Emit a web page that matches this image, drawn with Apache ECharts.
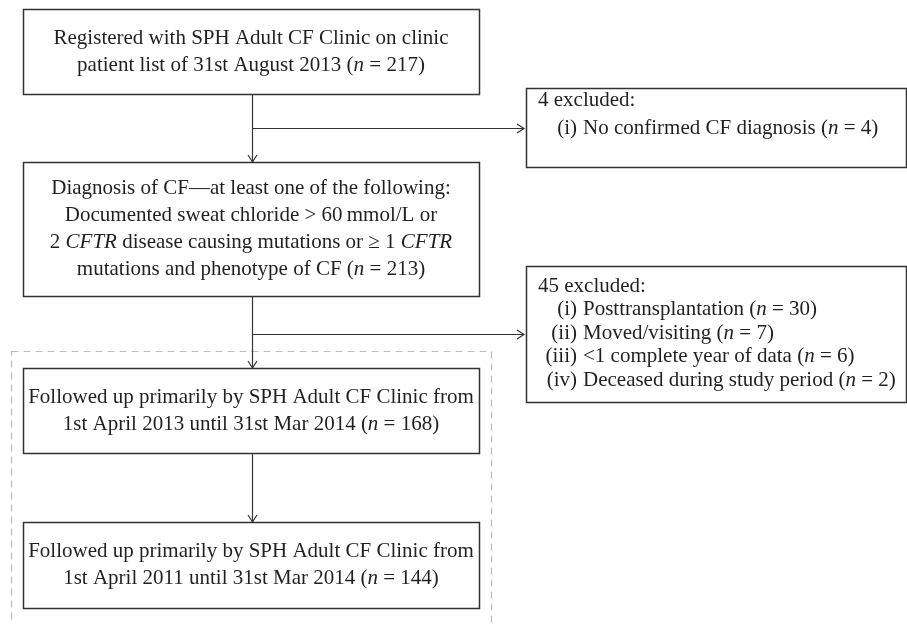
<!DOCTYPE html>
<html>
<head>
<meta charset="utf-8">
<script src="https://cdn.jsdelivr.net/npm/echarts@6/dist/echarts.min.js"></script>
<style>
  html, body { margin: 0; padding: 0; background: #fff; }
  #chart { width: 907px; height: 624px; }
</style>
</head>
<body>
<div id="chart"></div>
<script>
// flow steps (main column) and the patient count at each step
const stepLines = [
  ['Registered with SPH Adult CF Clinic on clinic', 'patient list of 31st August 2013'],
  ['Diagnosis of CF\u2014at least one of the following:',
   'Documented sweat chloride > 60\u2009mmol/L or',
   '2 {i|CFTR} disease causing mutations or \u2265 1 {i|CFTR}',
   'mutations and phenotype of CF'],
  ['Followed up primarily by SPH Adult CF Clinic from', '1st April 2013 until 31st Mar 2014'],
  ['Followed up primarily by SPH Adult CF Clinic from', '1st April 2011 until 31st Mar 2014']
];
const stepCounts = [217, 213, 168, 144];

// exclusions
const excl1Reasons = ['No confirmed CF diagnosis'];
const excl1Counts = [4];
const excl2Reasons = ['Posttransplantation', 'Moved/visiting', '<1 complete year of data', 'Deceased during study period'];
const excl2Counts = [30, 7, 6, 2];
const numerals = ['i', 'ii', 'iii', 'iv'];

const FONT = '"Liberation Serif", "DejaVu Serif", serif';
const SIZE = 21;
const INK = '#231f20';
const LINE = '#333';

const rich = {
  r: {fontFamily: FONT, fontSize: SIZE, fill: INK},
  i: {fontFamily: FONT, fontSize: SIZE, fill: INK, fontStyle: 'italic'}
};

const nText = (n) => ' ({i|n} = ' + n + ')';

// layout of the boxes
const mainX = 23, mainW = 456;
const mainBoxes = [
  {y: 9, h: 85},
  {y: 162, h: 134},
  {y: 368, h: 85},
  {y: 522, h: 86}
];
const sideX = 526, sideW = 380;
const sideBoxes = [
  {y: 88, h: 79},
  {y: 266, h: 136}
];
const stemX = 252;
const LH = 27;

const elements = [];

function text(x, y, str, align) {
  // wrap plain runs in the "r" style so rich tokens render consistently
  const parts = str.split(/(\{i\|[^}]*\})/).filter(s => s.length);
  const t = parts.map(p => p.startsWith('{i|') ? p : '{r|' + p + '}').join('');
  elements.push({
    type: 'text', silent: true,
    style: {x: x, y: y, text: t, rich: rich, align: align || 'center', verticalAlign: 'middle',
      fontFamily: FONT, fontSize: SIZE, fill: INK}
  });
}

function rect(x, y, w, h) {
  elements.push({
    type: 'rect', silent: true,
    shape: {x: x + 0.5, y: y + 0.5, width: w, height: h},
    style: {fill: '#fff', stroke: LINE, lineWidth: 1.5}
  });
}

function line(pts) {
  elements.push({
    type: 'polyline', silent: true,
    shape: {points: pts},
    style: {stroke: LINE, lineWidth: 1.2, fill: null}
  });
}

function arrowDown(x, y) {
  line([[x - 4.5, y - 7], [x, y], [x + 4.5, y - 7]]);
}

function arrowRight(x, y) {
  line([[x - 7, y - 4.5], [x, y], [x - 7, y + 4.5]]);
}

// dashed frame around the two follow-up boxes
elements.push({
  type: 'rect', silent: true,
  shape: {x: 11.5, y: 351.5, width: 480, height: 290},
  style: {fill: null, stroke: '#bdbdbd', lineWidth: 1.2, lineDash: [7, 5]}
});

// connectors
const sx = stemX + 0.5;
line([[sx, mainBoxes[0].y + mainBoxes[0].h], [sx, mainBoxes[1].y]]);
arrowDown(sx, mainBoxes[1].y);
line([[sx, 128.5], [sideX - 2, 128.5]]);
arrowRight(sideX - 2, 128.5);

line([[sx, mainBoxes[1].y + mainBoxes[1].h], [sx, mainBoxes[2].y]]);
arrowDown(sx, mainBoxes[2].y);
line([[sx, 334.5], [sideX - 2, 334.5]]);
arrowRight(sideX - 2, 334.5);

line([[sx, mainBoxes[2].y + mainBoxes[2].h], [sx, mainBoxes[3].y]]);
arrowDown(sx, mainBoxes[3].y);

// main boxes
mainBoxes.forEach((b, k) => {
  rect(mainX, b.y, mainW, b.h);
  const lines = stepLines[k].slice();
  lines[lines.length - 1] += nText(stepCounts[k]);
  const cy = b.y + b.h / 2 - (lines.length - 1) * LH / 2;
  lines.forEach((s, j) => text(mainX + mainW / 2, cy + j * LH, s));
});

// exclusion boxes
function sideBox(b, reasons, counts, lh, top) {
  rect(sideX, b.y, sideW, b.h);
  const total = counts.reduce((a, c) => a + c, 0);
  text(sideX + 12, b.y + top, total + ' excluded:', 'left');
  reasons.forEach((r, j) => {
    const y = b.y + top + (j + 1) * lh;
    text(sideX + 51, y, '(' + numerals[j] + ')', 'right');
    text(sideX + 57, y, r + nText(counts[j]), 'left');
  });
}
sideBox(sideBoxes[0], excl1Reasons, excl1Counts, 28, 12);
sideBox(sideBoxes[1], excl2Reasons, excl2Counts, 23.5, 20);

const chart = echarts.init(document.getElementById('chart'));
chart.setOption({
  backgroundColor: '#fff',
  animation: false,
  graphic: {elements: elements}
});
</script>
</body>
</html>
